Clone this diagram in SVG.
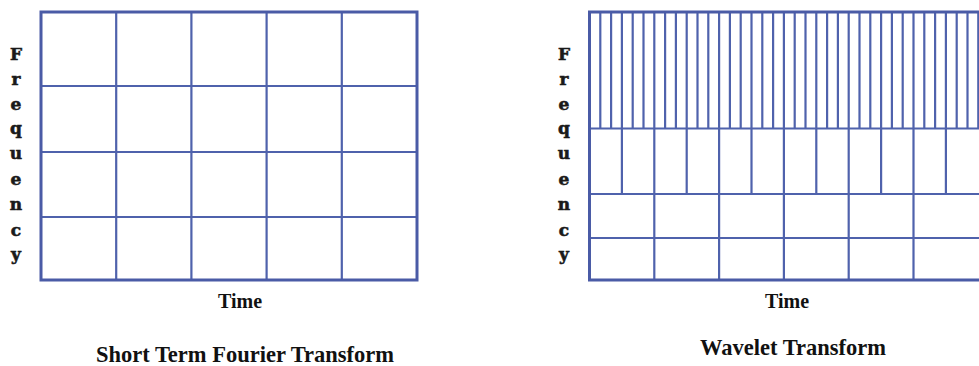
<svg xmlns="http://www.w3.org/2000/svg" width="979" height="366" viewBox="0 0 979 366">
<style>
.bg{fill:#ffffff}
.outer{fill:none;stroke:#4a5ba6;stroke-width:3}
.inner{fill:none;stroke:#4f62ac;stroke-width:2.2}
.axis{font-family:"DejaVu Serif","Liberation Serif",serif;font-weight:bold;font-size:17px;fill:#1a1a1a;stroke:#1a1a1a;stroke-width:0.6;text-anchor:middle}
.lbl{font-family:"Liberation Serif",serif;font-weight:bold;font-size:20px;fill:#111;text-anchor:middle}
.title{font-family:"Liberation Serif",serif;font-weight:bold;font-size:22.5px;fill:#111;text-anchor:middle}
</style>
<rect class="bg" x="0" y="0" width="979" height="366"/>

<g id="stft">
  <path class="inner" d="M116.2 12V280M191.4 12V280M266.6 12V280M341.8 12V280M41 86H417M41 152H417M41 217H417"/>
  <rect class="outer" x="41" y="12" width="376" height="268"/>
  <g class="axis">
    <text x="16" y="60">F</text>
    <text x="16" y="85">r</text>
    <text x="16" y="110">e</text>
    <text x="16" y="134">q</text>
    <text x="16" y="159">u</text>
    <text x="16" y="185">e</text>
    <text x="16" y="210">n</text>
    <text x="16" y="236">c</text>
    <text x="16" y="260">y</text>
  </g>
  <text class="lbl" x="240" y="308">Time</text>
  <text class="title" x="245" y="362">Short Term Fourier Transform</text>
</g>

<g id="wavelet">
  <path class="inner" d="M589.5 128.5H990M589.5 194H990M589.5 238H990
  M600.3 12V128.5M611.1 12V128.5M621.9 12V128.5M632.7 12V128.5M643.5 12V128.5M654.3 12V128.5
  M665.1 12V128.5M675.9 12V128.5M686.7 12V128.5M697.5 12V128.5M708.3 12V128.5M719.1 12V128.5
  M729.9 12V128.5M740.7 12V128.5M751.5 12V128.5M762.3 12V128.5M773.1 12V128.5M783.9 12V128.5
  M794.7 12V128.5M805.5 12V128.5M816.3 12V128.5M827.1 12V128.5M837.9 12V128.5M848.7 12V128.5
  M859.5 12V128.5M870.3 12V128.5M881.1 12V128.5M891.9 12V128.5M902.7 12V128.5M913.5 12V128.5
  M924.3 12V128.5M935.1 12V128.5M945.9 12V128.5M956.7 12V128.5M967.5 12V128.5M978.3 12V128.5
  M621.9 128.5V194M654.3 128.5V194M686.7 128.5V194M719.1 128.5V194M751.5 128.5V194M783.9 128.5V194
  M816.3 128.5V194M848.7 128.5V194M881.1 128.5V194M913.5 128.5V194M945.9 128.5V194
  M654.3 194V280M719.1 194V280M783.9 194V280M848.7 194V280M913.5 194V280"/>
  <path class="outer" d="M990 12H589.5V280H990"/>
  <g class="axis">
    <text x="564" y="60">F</text>
    <text x="564" y="85">r</text>
    <text x="564" y="110">e</text>
    <text x="564" y="134">q</text>
    <text x="564" y="159">u</text>
    <text x="564" y="185">e</text>
    <text x="564" y="210">n</text>
    <text x="564" y="236">c</text>
    <text x="564" y="260">y</text>
  </g>
  <text class="lbl" x="787" y="308">Time</text>
  <text class="title" x="793" y="355">Wavelet Transform</text>
</g>
</svg>
